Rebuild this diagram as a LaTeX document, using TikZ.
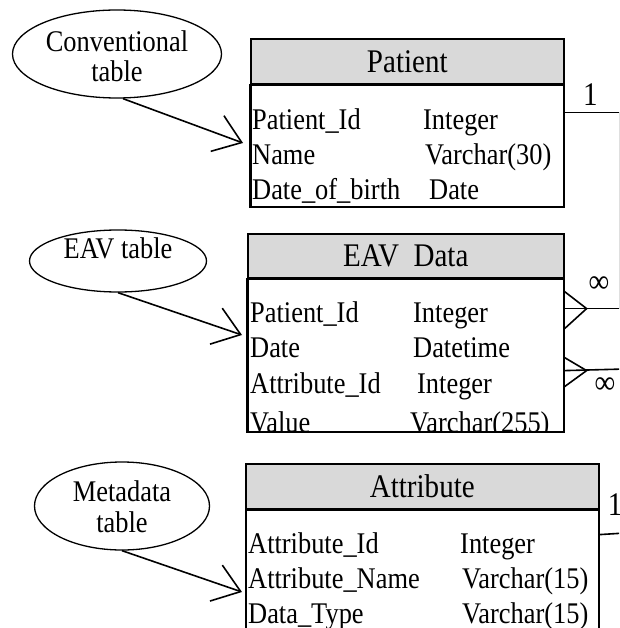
\documentclass[tikz,border=0pt]{standalone}
\usepackage{fontspec}
\setmainfont{Liberation Serif}[FakeStretch=0.88]
\usetikzlibrary{shapes.geometric,arrows.meta}
\definecolor{headgray}{RGB}{217,217,217}

\begin{document}
\begin{tikzpicture}[x=1pt,y=-1pt]
    \newcommand{\lw}{1.6pt} % width of the table borders and links
    \newcommand{\rowfont}{\fontsize{30}{30}\selectfont}
    \newcommand{\headfont}{\fontsize{33}{33}\selectfont}
    % bubble text, its last baseline #1 below the centre
    \newcommand{\lift}[2]{\raisebox{-#1}[0pt][0pt]{\begin{tabular}[b]{@{}c@{}}#2\end{tabular}}}

    % styles of the tables, the bubbles and the links
    \tikzset{
        head/.style={
            draw,
            fill=headgray,
            line width=\lw,
            anchor=north west,
            inner sep=0pt,
            font=\headfont
            },
        body/.style={
            draw,
            line width=\lw,
            anchor=north west,
            inner sep=0pt
            },
        row/.style={anchor=base west, inner sep=0pt, font=\rowfont},
        bubble/.style={
            draw,
            ellipse,
            line width=1.3pt,
            inner sep=0pt,
            font=\rowfont
            },
        pointer/.style={-{Straight Barb[length=26pt,width=38pt]}, line width=\lw},
        link/.style={line width=\lw},
        card/.style={font=\headfont, inner sep=0pt}
    }

    \clip (0,0) rectangle (619,628);

    % bubbles
    \node[bubble, minimum width=209pt, minimum height=88pt] (conv) at (117,54) {\lift{28pt}{Conventional\\table}};
    \node[bubble, minimum width=177pt, minimum height=62pt] (eav) at (118,261) {\lift{-3pt}{EAV table}};
    \node[bubble, minimum width=175pt, minimum height=88pt] (meta) at (122,506) {\lift{26pt}{Metadata\\[1pt]table}};

    % tables
    \node[head, minimum width=313pt, minimum height=45pt] (pathead) at (250,38) {Patient};
    \node[body, minimum width=313pt, minimum height=121pt] (patbody) at (pathead.south west) {};
    \node[head, minimum width=316pt, minimum height=44pt] (eavhead) at (247,233) {EAV~~Data};
    \node[body, minimum width=316pt, minimum height=152pt] (eavbody) at (eavhead.south west) {};
    \node[head, minimum width=353pt, minimum height=45pt] (atthead) at (245,463) {Attribute};
    \node[body, minimum width=353pt, minimum height=150pt] (attbody) at (atthead.south west) {};

    % rows
    \begin{scope}
        \clip (patbody.north west) rectangle (patbody.south east);
        \node[row] (pid) at (252,130) {Patient\_Id};
        \node[row] (pname) at (252,165) {Name};
        \node[row] (pdob) at (252,200) {Date\_of\_birth};
        \node[row] (pidt) at (423,130) {Integer};
        \node[row] (pnamet) at (425,165) {Varchar(30)};
        \node[row] (pdobt) at (429,200) {Date};
    \end{scope}
    \begin{scope}
        \clip (eavbody.north west) rectangle (eavbody.south east);
        \node[row] (eid) at (250,322) {Patient\_Id};
        \node[row] (edate) at (250,357) {Date};
        \node[row] (eatt) at (250,393) {Attribute\_Id};
        \node[row] (eval) at (250,432) {Value};
        \node[row] (eidt) at (413,322) {Integer};
        \node[row] (edatet) at (413,357) {Datetime};
        \node[row] (eattt) at (417,393) {Integer};
        \node[row] (evalt) at (410,432) {Varchar(255)};
    \end{scope}
    \node[row] (aid) at (248,553) {Attribute\_Id};
    \node[row] (aname) at (248,588) {Attribute\_Name};
    \node[row] (atype) at (248,623) {Data\_Type};
    \node[row] (aidt) at (460,553) {Integer};
    \node[row] (anamet) at (462,588) {Varchar(15)};
    \node[row] (atypet) at (462,623) {Varchar(15)};
    % redraw the borders over the clipped rows
    \draw[line width=\lw] (patbody.north west) rectangle (patbody.south east);
    \draw[line width=\lw] (eavbody.north west) rectangle (eavbody.south east);

    % pointers from the bubbles
    \coordinate (convtip) at (243,143);
    \coordinate (eavtip) at (242,335);
    \coordinate (metatip) at (242,592);
    \draw[pointer] ([xshift=6pt]conv.south) -- (convtip);
    \draw[pointer] (eav.south) -- (eavtip);
    \draw[pointer] (meta.south) -- (metatip);

    % links between the tables
    \coordinate (offeav) at (625,369);
    \coordinate (offatt) at (625,533);
    \draw[link] ([yshift=-28pt]patbody.north east) -- ++(55,0) node[card, pos=0.47, above=6pt] (one) {1} |- ([yshift=-30pt]eavbody.north east);
    \draw[link] ([yshift=-13pt]eavbody.north east) -- ++(22,17) -- ([yshift=-50pt]eavbody.north east);
    \node[card] (many) at (599,285) {∞};
    \draw[link] ([yshift=-92pt]eavbody.north east) -- (offeav);
    \draw[link] ([yshift=-79pt]eavbody.north east) -- ++(22,13) -- ([yshift=-108pt]eavbody.north east);
    \node[card] (manyb) at (605,386) {∞};
    \draw[link] ([yshift=-25pt]attbody.north east) -- (offatt);
    \node[card, anchor=base] (oneb) at (615,515) {1};
\end{tikzpicture}
\end{document}
